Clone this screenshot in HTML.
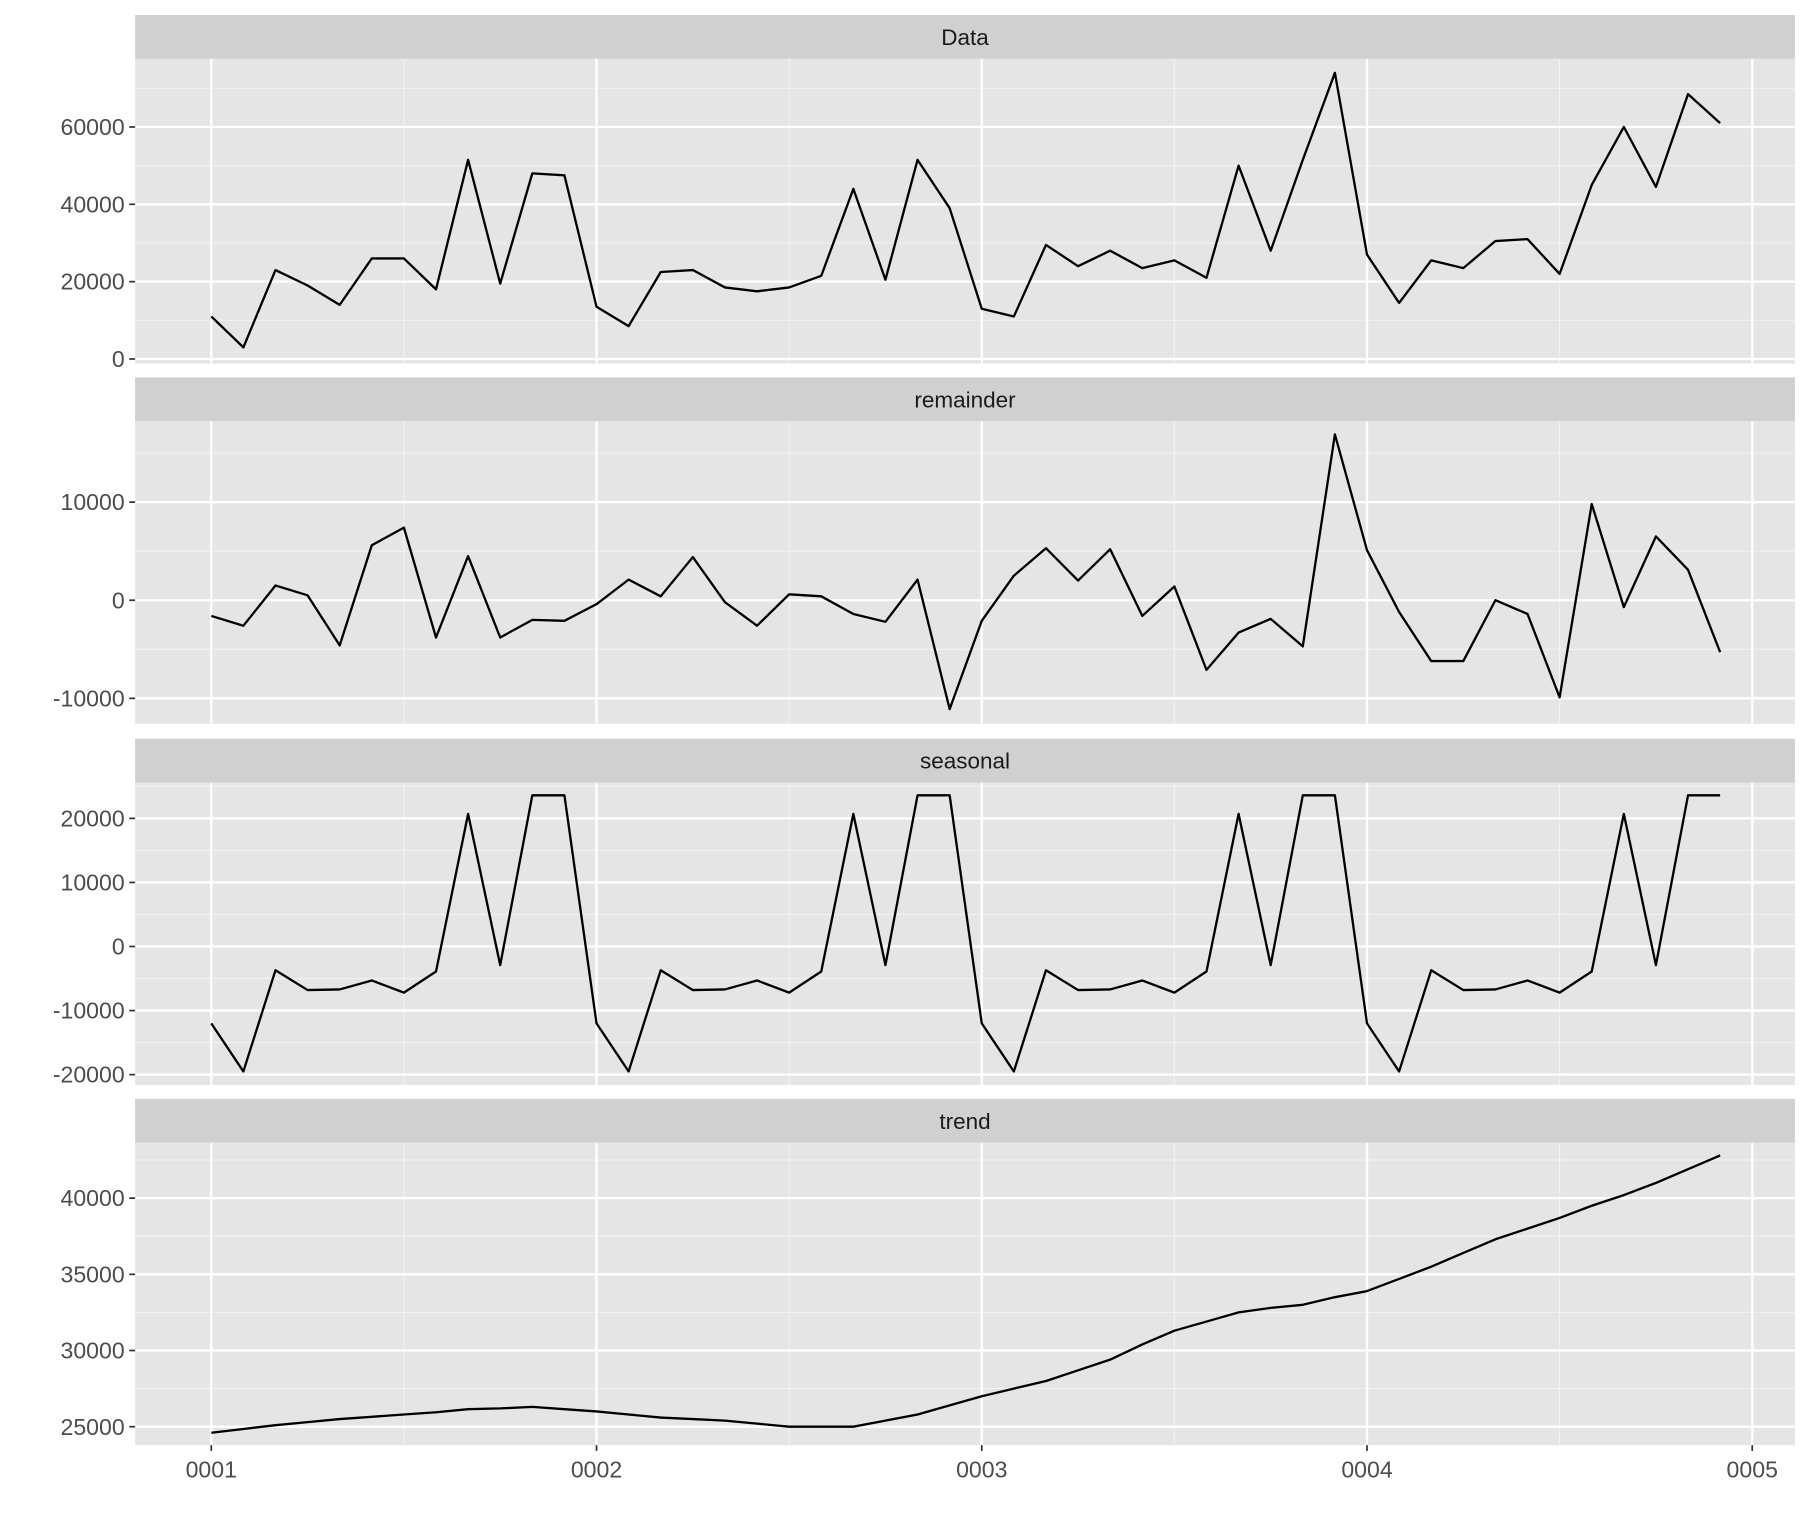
<!DOCTYPE html>
<html><head><meta charset="utf-8"><style>
html,body{margin:0;padding:0;background:#fff}
svg{display:block}
text{font-family:"Liberation Sans",Arial,sans-serif}
</style></head><body>
<svg id="chart" width="1810" height="1530" viewBox="0 0 1568 1325.5" xmlns="http://www.w3.org/2000/svg"></svg>
<script>
const xTickLabels = ["0001","0002","0003","0004","0005"];
const dataSeries = [11000,3000,23000,19000,14000,26000,26000,18000,51500,19500,48000,47500,
13500,8500,22500,23000,18500,17500,18500,21500,44000,20500,51500,39000,
13000,11000,29500,24000,28000,23500,25500,21000,50000,28000,51500,74000,
27000,14500,25500,23500,30500,31000,22000,45000,60000,44500,68500,61000];
const remainderSeries = [-1600,-2600,1500,500,-4600,5600,7400,-3800,4500,-3800,-2000,-2100,
-400,2100,400,4400,-200,-2600,600,400,-1400,-2200,2100,-11100,
-2100,2500,5300,2000,5200,-1600,1400,-7100,-3300,-1900,-4700,16900,
5100,-1200,-6200,-6200,0,-1400,-9900,9800,-700,6500,3100,-5300];
const seasonalSeries = [-12000,-19500,-3700,-6800,-6700,-5300,-7200,-3900,20700,-2900,23600,23600,
-12000,-19500,-3700,-6800,-6700,-5300,-7200,-3900,20700,-2900,23600,23600,
-12000,-19500,-3700,-6800,-6700,-5300,-7200,-3900,20700,-2900,23600,23600,
-12000,-19500,-3700,-6800,-6700,-5300,-7200,-3900,20700,-2900,23600,23600];
const trendSeries = [24600,24850,25100,25300,25500,25650,25800,25950,26150,26200,26300,26150,
26000,25800,25600,25500,25400,25200,25000,25000,25000,25400,25800,26400,
27000,27500,28000,28700,29400,30400,31300,31900,32500,32800,33000,33500,
33900,34700,35500,36400,37300,38000,38700,39500,40200,41000,41900,42800];
const dataTicks = [0,20000,40000,60000];
const remainderTicks = [-10000,0,10000];
const seasonalTicks = [-20000,-10000,0,10000,20000];
const trendTicks = [25000,30000,35000,40000];

const svg = document.getElementById('chart');
const NS = 'http://www.w3.org/2000/svg';
function mk(tag, attrs, parent){const e=document.createElementNS(NS,tag);for(const k in attrs)e.setAttribute(k,attrs[k]);(parent||svg).appendChild(e);return e;}
const PX0=117, PX1=1555;
function xScale(t){return 183 + t*333.75;}
const panels = [
 {name:'Data',series:dataSeries,ticks:dataTicks,minor:[10000,30000,50000,70000],strip:13,top:51,bot:315,v0:0,p0:311,v1:60000,p1:110},
 {name:'remainder',series:remainderSeries,ticks:remainderTicks,minor:[-15000,-5000,5000,15000],strip:327,top:365,bot:627,v0:0,p0:520,v1:10000,p1:435},
 {name:'seasonal',series:seasonalSeries,ticks:seasonalTicks,minor:[-15000,-5000,5000,15000,25000],strip:640,top:678,bot:940,v0:0,p0:820,v1:20000,p1:709},
 {name:'trend',series:trendSeries,ticks:trendTicks,minor:[27500,32500,37500,42500],strip:952,top:990,bot:1252,v0:25000,p0:1236,v1:40000,p1:1038}
];
panels.forEach((p,pi)=>{
  const y=v=>p.p0+(v-p.v0)*(p.p1-p.p0)/(p.v1-p.v0);
  const g=mk('g',{});
  
  
  const s=mk('rect',{x:PX0,y:p.strip,width:PX1-PX0,height:p.top-p.strip,fill:'#d0d0d0'},g);
  
  
  const st=mk('text',{x:(PX0+PX1)/2,y:(p.strip+p.top)/2+7,'text-anchor':'middle','font-size':'19.5',fill:'#1a1a1a'},g);
  st.textContent=p.name;
  
  
  mk('rect',{x:PX0,y:p.top,width:PX1-PX0,height:p.bot-p.top,fill:'#e5e5e5'},g);
  const clipId='c'+pi;
  const cp=mk('clipPath',{id:clipId},g);mk('rect',{x:PX0,y:p.top,width:PX1-PX0,height:p.bot-p.top},cp);
  const grid=mk('g',{'clip-path':'url(#'+clipId+')'},g);
  p.minor.forEach(v=>{const yy=y(v);if(yy>p.top&&yy<p.bot)mk('line',{x1:PX0,x2:PX1,y1:yy,y2:yy,stroke:'#f2f2f2','stroke-width':1},grid);});
  for(let i=0;i<4;i++){const xx=xScale(i+0.5);mk('line',{x1:xx,x2:xx,y1:p.top,y2:p.bot,stroke:'#f2f2f2','stroke-width':1},grid);}
  p.ticks.forEach(v=>{const yy=y(v);mk('line',{x1:PX0,x2:PX1,y1:yy,y2:yy,stroke:'#fff','stroke-width':2},grid);
    mk('line',{x1:PX0-5,x2:PX0,y1:yy,y2:yy,stroke:'#333','stroke-width':1.5},g);
    const t=mk('text',{x:PX0-9,y:yy+7,'text-anchor':'end','font-size':'20',fill:'#4d4d4d'},g);t.textContent=v;
    
    });
  xTickLabels.forEach((l,i)=>{const xx=xScale(i);mk('line',{x1:xx,x2:xx,y1:p.top,y2:p.bot,stroke:'#fff','stroke-width':2},grid);});
  const d=p.series.map((v,i)=>(i?'L':'M')+xScale(i/12).toFixed(2)+','+y(v).toFixed(2)).join('');
  const path=mk('path',{d:d,fill:'none',stroke:'#000','stroke-width':2,'stroke-linejoin':'round'},grid);
  
  
  if(pi===3){
    xTickLabels.forEach((l,i)=>{const xx=xScale(i);mk('line',{x1:xx,x2:xx,y1:p.bot,y2:p.bot+5,stroke:'#333','stroke-width':1.5},g);
      const t=mk('text',{x:xx,y:p.bot+28,'text-anchor':'middle','font-size':'20',fill:'#4d4d4d'},g);t.textContent=l;
      
      });
  }
});
</script>
</body></html>
